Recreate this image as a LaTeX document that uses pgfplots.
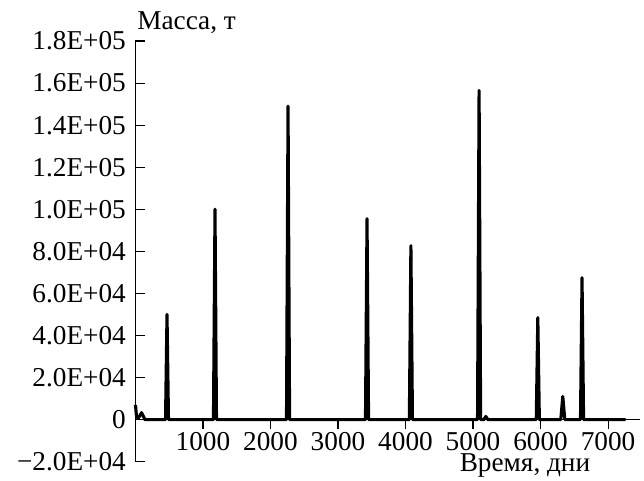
\documentclass[border=0pt]{standalone}
\usepackage{fontspec}
\setmainfont{Liberation Serif}
\usepackage{pgfplots}
\pgfplotsset{compat=1.18}

\begin{document}
\fontsize{10.5pt}{12pt}\selectfont
\begin{tikzpicture}
\begin{axis}[
  scale only axis,
  width=194.2pt, height=162pt,
  xmin=0, xmax=7470,
  ymin=-20000, ymax=180000,
  axis x line*=middle,
  axis y line*=left,
  clip=false,
  scaled y ticks=false,
  scaled x ticks=false,
  xtick={1000,2000,3000,4000,5000,6000,7000},
  xticklabels={1000,2000,3000,4000,5000,6000,7000},
  ytick={-20000,0,20000,40000,60000,80000,100000,120000,140000,160000,180000},
  yticklabels={−2.0E+04,0,2.0E+04,4.0E+04,6.0E+04,8.0E+04,1.0E+05,1.2E+05,1.4E+05,1.6E+05,1.8E+05},
  major tick length=3.5pt,
  x tick style={black, line width=0.4pt},
  y tick style={black, line width=0.4pt},
  xtick align=outside,
  ytick align=inside,
  tick label style={font=\fontsize{10.5pt}{12pt}\selectfont},
  xticklabel style={inner sep=0.5pt, yshift=-0.8pt},
  axis line style={line width=0.4pt},
]
\path (axis cs:-2007,199500) rectangle (axis cs:7533,-28980);
\addplot[black, line width=1.2pt, line join=round] coordinates {
  (0,7000) (15,1500) (40,600) (90,3300) (140,0)
  (445,0) (467,50000) (489,0)
  (1155,0) (1178,100000) (1200,0)
  (2237,0) (2260,149000) (2283,0)
  (3407,0) (3430,95500) (3453,0)
  (4057,0) (4080,82700) (4103,0)
  (5067,0) (5090,156500) (5113,0)
  (5160,0) (5190,1500) (5220,0)
  (5937,0) (5960,48500) (5983,0)
  (6300,0) (6330,11000) (6360,0)
  (6592,0) (6615,67500) (6638,0)
  (7260,0)
};
\node[anchor=base west, inner sep=0pt] at (axis cs:20,180000) [yshift=4.3pt] {Масса, т};
\node[anchor=base, inner sep=0pt] at (axis cs:5770,0) [yshift=-20pt] {Время, дни};
\end{axis}
\end{tikzpicture}
\end{document}
